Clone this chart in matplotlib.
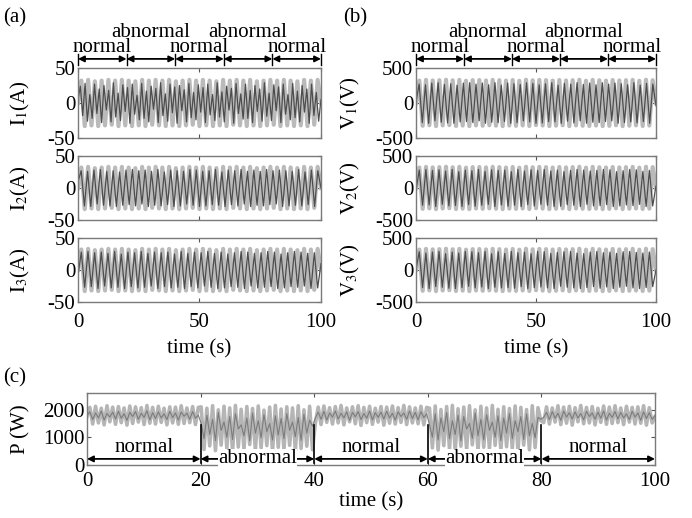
import numpy as np
import matplotlib.pyplot as plt
import matplotlib.transforms as mtransforms

plt.rcParams['font.family'] = ['Liberation Serif', 'DejaVu Serif']
plt.rcParams['mathtext.fontset'] = 'stix'
plt.rcParams['axes.unicode_minus'] = False
plt.rcParams['font.size'] = 15

# segment boundaries and labels
seg_edges = [0, 20, 40, 60, 80, 100]
seg_labels = ['normal', 'abnormal', 'normal', 'abnormal', 'normal']

# peak values of the current traces (A)
cur_light = [0, 32, -33, 33, -32, 31, -33, 32, -32, 33, -31, 32, -33, 33, -32, 32, -33, 31,
             -32, 33, -33, 32, -31, 33, -32, 32, -33, 33, -32, 31, -33, 32, -32, 33, -31, 32,
             -33, 33, -32, 32, -33, 31, -32, 33, -33, 32, -31, 33, -32, 32, -33, 33, -32, 31,
             -33, 32, -32, 33, -31, 32, -33, 33, -32, 32, -33, 31, -32, 33, -33, 32, -31, 33, 0]
i1_dark = [5, 24, -18, 28, -26, 12, -22, 27, -15, 20, -28, 25, -10, 18, -27, 29, -20, 14,
           -25, 26, -12, 22, -29, 27, -16, 11, -24, 28, -22, 17, -27, 24, -9, 21, -28, 29,
           -18, 13, -26, 27, -14, 23, -29, 25, -11, 19, -27, 28, -21, 15, -24, 26, -13, 22,
           -28, 27, -17, 12, -25, 29, -20, 16, -27, 24, -10, 21, -29, 28, -15, 13, -23, 27,
           -22, 18, -28, 25, -12, 20, -26, 29, -19, 14, -25, 26, -11, 23, -28, 27, -16, 12,
           -24, 28, -21, 17, -27, 25, -13, 20, -29, 27, -18, 15, -26, 5]
i2_dark = [10, 27, -28, 26, -29, 28, -25, 29, -27, 26, -28, 27, -29, 25, -27, 28, -26, 29,
           -28, 27, -25, 28, -29, 26, -27, 29, -28, 25, -26, 28, -29, 27, -28, 26, -25, 29,
           -27, 28, -29, 26, -28, 27, -26, 29, -27, 25, -29, 28, -26, 27, -28, 29, -25, 26,
           -29, 28, -27, 26, -28, 29, -26, 27, -25, 28, -29, 27, -28, 26, -27, 29, -28, 25,
           -26, 28, -29, 27, 0]
i3_dark = [-8, 28, -27, 29, -26, 27, -29, 28, -25, 26, -28, 29, -27, 25, -29, 28, -26, 27,
           -28, 29, -27, 26, -25, 28, -29, 27, -26, 28, -28, 25, -27, 29, -29, 26, -26, 28,
           -28, 27, -25, 29, -27, 26, -29, 28, -28, 25, -26, 27, -27, 29, -29, 28, -25, 26,
           -28, 27, -27, 29, -26, 28, -29, 25, -28, 27, -26, 29, -27, 28, -25, 26, -29, 27,
           -28, 10]

# peak values of the voltage traces (V)
volt_light = [0, 320, -325, 330, -318, 322, -330, 326, -320, 332, -316, 324, -328, 330, -322,
              318, -330, 326, -320, 328, -325, 322, -318, 330, -324, 326, -330, 320, -322,
              328, -326, 318, -320, 332, -328, 324, -316, 330, -322, 326, -330, 320, -324,
              328, -318, 322, -330, 326, -320, 332, -325, 318, -328, 330, -322, 324, -330,
              320, -326, 328, -318, 322, -330, 326, -324, 330, -320, 318, -328, 332, -322,
              326, 0]
v1_dark = [20, 270, -280, 260, -290, 285, -255, 290, -275, 265, -285, 275, -290, 255, -270,
           285, -265, 290, -280, 270, -255, 285, -290, 260, -275, 290, -280, 255, -265, 285,
           -290, 275, -280, 265, -255, 290, -270, 280, -290, 260, -285, 275, -265, 290, -270,
           255, -290, 280, -260, 270, -285, 290, -255, 265, -290, 285, -275, 260, -280, 290,
           -265, 270, -255, 285, -290, 275, -280, 260, -270, 290, -285, 255, -265, 280, -290,
           270, -40]
v2_dark = [-30, 280, -270, 290, -265, 275, -290, 285, -255, 265, -280, 290, -275, 255, -290,
           280, -260, 270, -285, 290, -270, 260, -255, 285, -290, 275, -265, 280, -285, 255,
           -270, 290, -290, 265, -260, 285, -280, 275, -255, 290, -270, 265, -290, 280, -285,
           255, -260, 275, -270, 290, -290, 280, -255, 265, -280, 275, -275, 290, -260, 285,
           -290, 255, -280, 270, -265, 290, -275, 285, -255, 260, -290, 275, -280, 30]
v3_dark = [15, 285, -275, 265, -290, 280, -260, 290, -270, 255, -285, 280, -290, 265, -275,
           290, -255, 285, -280, 270, -265, 290, -290, 255, -270, 285, -280, 260, -275, 290,
           -285, 270, -260, 280, -290, 255, -275, 290, -265, 285, -280, 260, -290, 275, -255,
           285, -270, 290, -280, 265, -290, 255, -275, 280, -260, 290, -285, 270, -265, 280,
           -290, 260, -270, 285, -255, 290, -280, 275, -290, 265, -275, 280, -260, 0]

# power trace (W), 40 samples per 20 s segment
p_light = [1750, 2080, 1480, 2120, 1520, 2050, 1450, 2140, 1560, 2090, 1470, 2110, 1530, 2060,
           1440, 2130, 1500, 2100, 1550, 2070, 1460, 2150, 1510, 2080, 1480, 2120, 1540, 2050,
           1450, 2100, 1520, 2090, 1470, 2140, 1500, 2060, 1530, 2110, 1460, 2080,
           2100, 560, 2050, 690, 2140, 520, 1990, 720, 2120, 600, 2060, 500, 2150, 650, 2010,
           580, 2110, 740, 2040, 530, 2130, 620, 1980, 700, 2090, 490, 2150, 640, 2020, 560,
           2100, 710, 2060, 520, 2140, 600, 1990, 680, 2120, 550,
           1500, 2090, 1460, 2130, 1540, 2070, 1480, 2110, 1520, 2150, 1450, 2060, 1560, 2100,
           1490, 2140, 1430, 2080, 1530, 2120, 1470, 2050, 1550, 2110, 1440, 2090, 1510, 2130,
           1480, 2070, 1540, 2150, 1460, 2100, 1520, 2060, 1490, 2120, 1450, 2080,
           2050, 620, 2130, 540, 2000, 700, 2110, 580, 2150, 510, 2030, 680, 2090, 560, 2140,
           730, 1990, 500, 2120, 640, 2060, 570, 2150, 710, 2010, 530, 2100, 660, 2040, 590,
           2130, 500, 2080, 720, 2000, 550, 2140, 630, 2070, 1600,
           1530, 2100, 1480, 2060, 1550, 2140, 1460, 2090, 1510, 2120, 1440, 2070, 1560, 2150,
           1490, 2080, 1520, 2110, 1450, 2050, 1540, 2130, 1470, 2090, 1500, 2140, 1530, 2060,
           1460, 2120, 1550, 2080, 1480, 2100, 1510, 2140, 1440, 2070, 1520, 1750]
p_dark = [1780, 1920, 1640, 1880, 1700, 1950, 1620, 1860, 1730, 1910, 1660, 1940, 1690, 1850,
          1610, 1900, 1750, 1930, 1650, 1870, 1720, 1960, 1630, 1890, 1680, 1920, 1700, 1850,
          1640, 1940, 1710, 1880, 1620, 1910, 1760, 1870, 1650, 1930, 1690, 1800,
          1500, 950, 1800, 1100, 1650, 880, 1900, 1250, 1550, 1000, 1750, 920, 1850, 1300,
          1450, 1050, 1700, 870, 1880, 1150, 1600, 980, 1820, 1200, 1500, 900, 1780, 1080,
          1680, 950, 1860, 1250, 1550, 1020, 1720, 890, 1830, 1150, 1620, 1400,
          1700, 1910, 1650, 1940, 1620, 1880, 1730, 1950, 1660, 1870, 1700, 1920, 1610, 1900,
          1740, 1930, 1640, 1860, 1690, 1950, 1630, 1890, 1720, 1910, 1660, 1940, 1700, 1870,
          1620, 1920, 1750, 1880, 1650, 1950, 1680, 1900, 1630, 1930, 1710, 1850,
          1450, 1000, 1850, 900, 1700, 1200, 1900, 950, 1600, 1100, 1800, 870, 1750, 1300,
          1500, 960, 1880, 1050, 1650, 900, 1820, 1250, 1550, 1000, 1780, 880, 1700, 1150,
          1860, 950, 1600, 1200, 1750, 920, 1850, 1050, 1500, 980, 1720, 1650,
          1720, 1900, 1640, 1930, 1690, 1870, 1610, 1950, 1730, 1890, 1660, 1920, 1700, 1860,
          1630, 1940, 1750, 1880, 1650, 1910, 1690, 1950, 1620, 1870, 1720, 1930, 1660, 1900,
          1700, 1850, 1640, 1940, 1730, 1880, 1610, 1920, 1680, 1890, 1650, 1780]

LIGHT = '#bababa'
DARK = '#4d4d4d'
W, H = 692, 518


def px(l, t, r, b):
    return [l / W, 1 - b / H, (r - l) / W, (b - t) / H]


def style(ax, xpad=8):
    ax.tick_params(direction='in', top=True, right=True, length=3, width=0.8,
                   labelsize=15, color='#555555', pad=2)
    ax.tick_params(axis='x', pad=xpad)
    for s in ax.spines.values():
        s.set_color('#7a7a7a')
        s.set_linewidth(1.0)


def trace(ax, light, dark):
    ax.plot(np.linspace(0, 100, len(light)), light, color=LIGHT, lw=3.0)
    ax.plot(np.linspace(0, 100, len(dark)), dark, color=DARK, lw=0.9)


def top_segments(ax):
    tr = mtransforms.blended_transform_factory(ax.transData, ax.transAxes)
    for a in seg_edges:
        ax.plot([a, a], [1.04, 1.2], color='k', lw=1, transform=tr, clip_on=False)
    for i, lab in enumerate(seg_labels):
        a, b = seg_edges[i], seg_edges[i + 1]
        ax.annotate('', xy=(b, 1.13), xytext=(a, 1.13), xycoords=tr, textcoords=tr,
                    arrowprops=dict(arrowstyle='<|-|>', lw=1.3, color='k',
                                    shrinkA=0, shrinkB=0, mutation_scale=9))
        yy = 1.51 if lab == 'abnormal' else 1.29
        ax.text((a + b) / 2, yy, lab, transform=tr, ha='center', va='center', fontsize=15)


fig = plt.figure(figsize=(6.92, 5.18), dpi=100)

rows = [(68, 138), (156, 220), (238, 302)]
cur_dark = [i1_dark, i2_dark, i3_dark]
volt_dark = [v1_dark, v2_dark, v3_dark]

for k, (t, b) in enumerate(rows):
    ax = fig.add_axes(px(78, t, 321, b))
    trace(ax, cur_light, cur_dark[k])
    ax.set_xlim(0, 100)
    ax.set_ylim(-50, 50)
    ax.set_yticks([-50, 0, 50])
    ax.set_xticks([0, 50, 100])
    ax.set_ylabel(r'$\mathrm{I}_{%d}$(A)' % (k + 1), fontsize=15)
    ax.yaxis.set_label_coords(-0.19, 0.5)
    style(ax)
    if k < 2:
        ax.set_xticklabels([])
    else:
        ax.set_xlabel('time (s)', fontsize=15, labelpad=5)
    if k == 0:
        top_segments(ax)

    ax = fig.add_axes(px(416, t, 656, b))
    trace(ax, volt_light, volt_dark[k])
    ax.set_xlim(0, 100)
    ax.set_ylim(-500, 500)
    ax.set_yticks([-500, 0, 500])
    ax.set_xticks([0, 50, 100])
    ax.set_ylabel(r'$\mathrm{V}_{%d}$(V)' % (k + 1), fontsize=15)
    ax.yaxis.set_label_coords(-0.225, 0.5)
    style(ax)
    if k < 2:
        ax.set_xticklabels([])
    else:
        ax.set_xlabel('time (s)', fontsize=15, labelpad=5)
    if k == 0:
        top_segments(ax)

# power panel
ax = fig.add_axes(px(87, 393, 655, 465))
ax.plot(np.linspace(0, 100, len(p_light)), p_light, color='#b5b5b5', lw=2.6)
ax.plot(np.linspace(0, 100, len(p_dark)), p_dark, color='#7c7c7c', lw=0.8)
ax.set_xlim(0, 100)
ax.set_ylim(0, 2600)
ax.set_yticks([0, 1000, 2000])
ax.set_xticks([0, 20, 40, 60, 80, 100])
ax.set_ylabel('P (W)', fontsize=15)
ax.yaxis.set_label_coords(-0.1, 0.5)
ax.set_xlabel('time (s)', fontsize=15, labelpad=1)
style(ax, xpad=5)
for a in seg_edges[:-1]:
    ax.plot([a, a], [60, 1450], color='k', lw=1.2)
for i, lab in enumerate(seg_labels):
    a, b = seg_edges[i], seg_edges[i + 1]
    ax.annotate('', xy=(b, 220), xytext=(a, 220),
                arrowprops=dict(arrowstyle='<|-|>', lw=1.3, color='k',
                                shrinkA=0, shrinkB=0, mutation_scale=9))
    if lab == 'abnormal':
        ax.text((a + b) / 2, 220, lab, ha='center', va='center', fontsize=15,
                bbox=dict(facecolor='white', edgecolor='none', pad=0.3))
    else:
        ax.text((a + b) / 2, 620, lab, ha='center', va='center', fontsize=15)

fig.text(3 / W, 1 - 18 / H, '(a)', fontsize=15, va='center')
fig.text(343 / W, 1 - 18 / H, '(b)', fontsize=15, va='center')
fig.text(3 / W, 1 - 378 / H, '(c)', fontsize=15, va='center')

fig.savefig('out.png', dpi=100)
